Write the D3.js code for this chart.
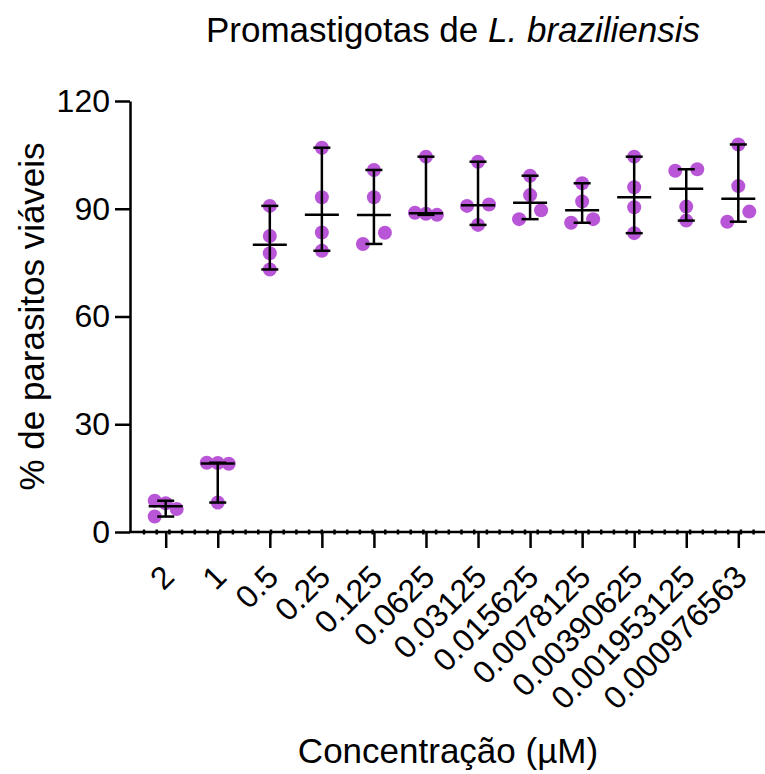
<!DOCTYPE html>
<html lang="en">
<head>
<meta charset="utf-8">
<title>Promastigotas de L. braziliensis</title>
<style>
  body { margin: 0; background: #fff; }
  svg { display: block; font-family: "Liberation Sans", Arial, sans-serif; }
  .axis text { fill: #000; }
  .axis line, .axis path { stroke: #000; stroke-width: 2.5; }
</style>
</head>
<body>
<svg width="765" height="774"></svg>
<script src="https://cdn.jsdelivr.net/npm/d3@7"></script>
<script>
// concentrations (µM)
var categories = ['2', '1', '0.5', '0.25', '0.125', '0.0625', '0.03125', '0.015625',
  '0.0078125', '0.00390625', '0.001953125', '0.000976563'];

// % viable parasites, 4 replicates per concentration
var values = [
  [8.7, 8.0, 6.4, 4.3],
  [19.3, 19.2, 19.0, 8.2],
  [90.8, 82.4, 77.6, 73.1],
  [107.0, 93.2, 83.4, 78.3],
  [100.8, 93.2, 83.3, 80.2],
  [104.5, 88.9, 88.6, 88.3],
  [103.1, 91.2, 90.8, 85.5],
  [99.2, 93.8, 89.6, 87.1],
  [97.1, 92.0, 87.1, 86.1],
  [104.5, 96.0, 90.4, 83.2],
  [101.0, 100.6, 90.6, 86.7],
  [107.9, 96.3, 89.2, 86.4]
];

var yTicks = [0, 30, 60, 90, 120];

var svg = d3.select('svg');
var plotLeft = 130, plotRight = 765, plotTop = 101, plotBottom = 532;

var x = d3.scalePoint()
  .domain(categories)
  .range([165.7, 738.3]);

var y = d3.scaleLinear()
  .domain([0, 120])
  .range([plotBottom, plotTop]);

// y axis
var yAxis = svg.append('g')
  .attr('class', 'axis')
  .attr('transform', `translate(${plotLeft},0)`)
  .call(d3.axisLeft(y).tickValues(yTicks).tickSize(15).tickSizeOuter(0).tickPadding(5));
yAxis.selectAll('text').style('font-size', '32px');

// x axis
var xAxis = svg.append('g')
  .attr('class', 'axis')
  .attr('transform', `translate(0,${plotBottom})`)
  .call(d3.axisBottom(x).tickSize(16).tickSizeOuter(0));
xAxis.select('.domain').remove();
xAxis.append('line')
  .attr('x1', plotLeft - 1).attr('x2', plotRight)
  .attr('y1', 0).attr('y2', 0);
// little dots along the x axis
xAxis.selectAll('.minor')
  .data(d3.range(plotLeft + 14, plotRight, 12.7))
  .enter()
  .append('line')
  .attr('class', 'minor')
  .attr('x1', d => d).attr('x2', d => d)
  .attr('y1', -2.5).attr('y2', 2.5)
  .style('stroke-width', 2.5);
xAxis.selectAll('.tick text')
  .style('font-size', '32px')
  .attr('text-anchor', 'end')
  .attr('x', 0).attr('y', 0).attr('dy', 0)
  .attr('transform', 'translate(10,47) rotate(-45)');

// points: replicates closer than a dot spread sideways around the centre
var r = 7, step = 11;
var points = [];
categories.forEach(function (c, i) {
  var ys = values[i].slice().sort((a, b) => b - a).map(v => y(v));
  var clusters = [[ys[0]]];
  for (var k = 1; k < ys.length; k++) {
    var cur = clusters[clusters.length - 1];
    if (ys[k] - cur[cur.length - 1] < 12) cur.push(ys[k]);
    else clusters.push([ys[k]]);
  }
  clusters.forEach(function (cl) {
    var offs = cl.length === 1 ? [0] : cl.length === 2 ? [step, -step] : [-step, 0, step];
    cl.forEach(function (cy, j) {
      points.push({ cx: x(c) + offs[j % offs.length], cy: cy });
    });
  });
});

svg.append('g')
  .selectAll('circle')
  .data(points)
  .enter()
  .append('circle')
  .attr('cx', d => d.cx)
  .attr('cy', d => d.cy)
  .attr('r', r)
  .style('fill', '#b956d8');

// median with range
var stats = categories.map(function (c, i) {
  return { c: c, med: d3.median(values[i]), lo: d3.min(values[i]), hi: d3.max(values[i]) };
});

var bars = svg.append('g')
  .style('stroke', '#000')
  .style('stroke-width', 2.5);

bars.selectAll('.range')
  .data(stats).enter().append('line')
  .attr('x1', d => x(d.c)).attr('x2', d => x(d.c))
  .attr('y1', d => y(d.lo)).attr('y2', d => y(d.hi));

bars.selectAll('.capHi')
  .data(stats).enter().append('line')
  .attr('x1', d => x(d.c) - 8.5).attr('x2', d => x(d.c) + 8.5)
  .attr('y1', d => y(d.hi)).attr('y2', d => y(d.hi));

bars.selectAll('.capLo')
  .data(stats).enter().append('line')
  .attr('x1', d => x(d.c) - 8.5).attr('x2', d => x(d.c) + 8.5)
  .attr('y1', d => y(d.lo)).attr('y2', d => y(d.lo));

bars.selectAll('.med')
  .data(stats).enter().append('line')
  .attr('x1', d => x(d.c) - 17).attr('x2', d => x(d.c) + 17)
  .attr('y1', d => y(d.med)).attr('y2', d => y(d.med));

// titles
var title = svg.append('text')
  .attr('x', 453).attr('y', 42)
  .attr('text-anchor', 'middle')
  .style('font-size', '35px');
title.append('tspan').text('Promastigotas de ');
title.append('tspan').style('font-style', 'italic').text('L. braziliensis');

svg.append('text')
  .attr('transform', `translate(44,${(plotTop + plotBottom) / 2}) rotate(-90)`)
  .attr('text-anchor', 'middle')
  .style('font-size', '35px')
  .text('% de parasitos viáveis');

svg.append('text')
  .attr('x', 448).attr('y', 763)
  .attr('text-anchor', 'middle')
  .style('font-size', '35px')
  .text('Concentração (µM)');
</script>
</body>
</html>
